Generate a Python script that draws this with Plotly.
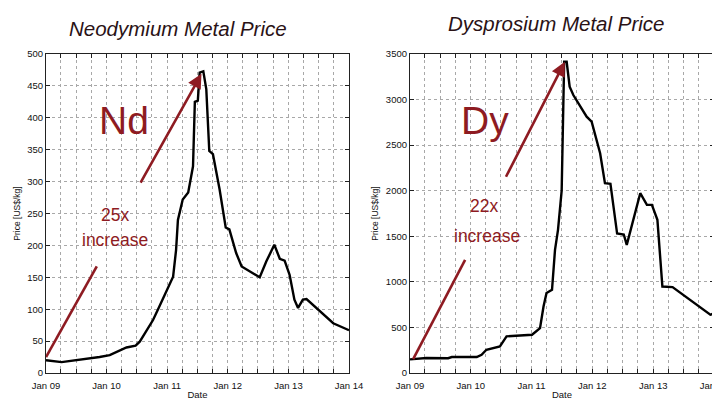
import plotly.graph_objects as go

# ---------------- data ----------------
nd_dates = ["2009-01-01", "2009-04-05", "2009-11-20", "2010-01-20", "2010-05-01", "2010-06-25",
            "2010-07-20", "2010-10-08", "2010-11-06", "2011-01-08", "2011-02-06", "2011-02-24",
            "2011-03-07", "2011-04-05", "2011-05-08", "2011-06-06", "2011-06-17", "2011-07-05",
            "2011-07-16", "2011-08-07", "2011-08-25", "2011-09-12", "2011-10-04", "2011-11-13",
            "2011-12-20", "2012-01-11", "2012-02-02", "2012-02-21", "2012-03-25", "2012-07-12",
            "2012-08-21", "2012-10-08", "2012-11-10", "2012-12-09", "2013-01-08", "2013-02-06",
            "2013-02-28", "2013-03-29", "2013-04-20", "2013-09-28", "2014-01-01"]
nd_price = [20, 17, 25, 28, 40, 43, 49, 83, 99, 133, 151, 193, 240, 272, 283, 324, 425, 427,
            471, 473, 445, 348, 343, 288, 228, 225, 204, 188, 167, 150, 175, 201, 179, 176,
            154, 115, 102, 115, 116, 78, 67]

dy_dates = ["2009-01-01", "2009-04-08", "2009-08-18", "2009-09-09", "2010-02-06", "2010-03-07",
            "2010-04-05", "2010-05-15", "2010-06-25", "2010-08-04", "2010-10-05", "2011-01-04",
            "2011-02-21", "2011-03-14", "2011-04-01", "2011-05-04", "2011-05-22", "2011-06-09",
            "2011-07-01", "2011-07-16", "2011-07-31", "2011-08-18", "2011-09-09", "2011-11-28",
            "2011-12-28", "2012-02-17", "2012-03-17", "2012-04-19", "2012-05-29", "2012-07-08",
            "2012-07-26", "2012-10-15", "2012-11-24", "2012-12-24", "2013-01-26", "2013-02-25",
            "2013-04-27", "2013-12-10", "2014-01-04"]
dy_price = [150, 165, 162, 175, 175, 200, 255, 274, 292, 402, 409, 420, 493, 730, 877, 913,
            1351, 1571, 2000, 3415, 3415, 3141, 3050, 2812, 2758, 2411, 2082, 2075, 1530, 1520,
            1406, 1973, 1845, 1845, 1680, 949, 942, 639, 657]

year_ticks = ["2009-01-01", "2010-01-01", "2011-01-01", "2012-01-01", "2013-01-01", "2014-01-01"]
year_labels = ["Jan 09", "Jan 10", "Jan 11", "Jan 12", "Jan 13", "Jan 14"]

titles = ["Neodymium Metal Price", "Dysprosium Metal Price"]
symbols = ["Nd", "Dy"]
increases = ["25x", "22x"]

# arrow decorations (data coordinates: tail -> head)
nd_arrow_low = [("2009-01-01", 25), ("2009-11-03", 167)]
nd_arrow_up = [("2010-07-20", 296), ("2011-07-27", 469)]
dy_arrow_low = [("2009-01-20", 153), ("2009-11-28", 1242)]
dy_arrow_up = [("2010-07-27", 2137), ("2011-07-20", 3415)]

# ---------------- layout helpers ----------------
# page body has an 8px margin, so the figure is 8px smaller and shifted
OFF = 8
W, H = 720 - OFF, 407 - OFF


def px(x):
    return (x - OFF) / W


def py(y):
    return 1 - (y - OFF) / H


RED = "#8e1b22"
FAM = "Liberation Sans, Arial, sans-serif"
TICKFONT = dict(family=FAM, size=9.5, color="#111")

fig = go.Figure()
fig.add_trace(go.Scatter(x=nd_dates, y=nd_price, mode="lines",
                         line=dict(color="black", width=2.4), xaxis="x", yaxis="y",
                         showlegend=False, hoverinfo="x+y"))
fig.add_trace(go.Scatter(x=dy_dates, y=dy_price, mode="lines",
                         line=dict(color="black", width=2.4), xaxis="x2", yaxis="y2",
                         showlegend=False, hoverinfo="x+y"))

ydom = [py(373), py(54)]


def xaxis_cfg(dom, anchor):
    return dict(domain=dom, anchor=anchor, type="date",
                range=["2009-01-01", "2014-01-01"],
                tickmode="array", tickvals=year_ticks, ticktext=year_labels,
                ticks="inside", ticklen=4, tickcolor="#222",
                showline=True, linecolor="#222", linewidth=1.2, mirror="allticks",
                showgrid=True, gridcolor="#a8a8a8", griddash="dot", gridwidth=1,
                minor=dict(dtick="M3", ticks="inside", ticklen=4, tickcolor="#222",
                           showgrid=True, gridcolor="#a8a8a8", griddash="dot", gridwidth=1),
                tickfont=TICKFONT, zeroline=False, automargin=False,
                ticklabeloverflow="allow", ticklabelstandoff=3,
                title=dict(text="Date", font=dict(family=FAM, size=9.5, color="#111"),
                           standoff=1))


def yaxis_cfg(anchor, rng, dtick):
    return dict(domain=ydom, anchor=anchor, range=rng, dtick=dtick,
                ticks="inside", ticklen=4, tickcolor="#222",
                showline=True, linecolor="#222", linewidth=1.2, mirror="allticks",
                showgrid=True, gridcolor="#a8a8a8", griddash="dot", gridwidth=1,
                tickfont=TICKFONT, zeroline=False, automargin=False,
                title=dict(text="Price [US$/kg]", font=dict(family=FAM, size=8.5, color="#111"),
                           standoff=5))


fig.update_layout(
    width=W, height=H,
    margin=dict(l=0, r=0, t=0, b=0),
    paper_bgcolor="white", plot_bgcolor="white",
    xaxis=xaxis_cfg([px(46), px(349)], "y"),
    yaxis=yaxis_cfg("x", [0, 500], 50),
    xaxis2=xaxis_cfg([px(410), px(714)], "y2"),
    yaxis2=yaxis_cfg("x2", [0, 3500], 500),
)

annotations = []
shapes = []
TITLEFONT = dict(family=FAM, size=20.5, color="#2a1216", style="italic")
annotations.append(dict(text=titles[0], x=px(178), y=py(28), xref="paper", yref="paper",
                        showarrow=False, font=TITLEFONT, xanchor="center", yanchor="middle"))
annotations.append(dict(text=titles[1], x=px(556), y=py(23), xref="paper", yref="paper",
                        showarrow=False, font=TITLEFONT, xanchor="center", yanchor="middle"))

BIGFONT = dict(family=FAM, size=39, color=RED)
MIDFONT = dict(family=FAM, size=17.5, color=RED)

for sym, inc, (xs, ys), (xi, yi), (xr2, yr2) in [
        (symbols[0], increases[0], (124, 120), (115, 215), (115, 240)),
        (symbols[1], increases[1], (485, 121), (484, 206), (487, 236))]:
    annotations.append(dict(text=sym, x=px(xs), y=py(ys), xref="paper", yref="paper",
                            showarrow=False, font=BIGFONT, xanchor="center", yanchor="middle"))
    annotations.append(dict(text=inc, x=px(xi), y=py(yi), xref="paper", yref="paper",
                            showarrow=False, font=MIDFONT, xanchor="center", yanchor="middle"))
    annotations.append(dict(text="increase", x=px(xr2), y=py(yr2), xref="paper", yref="paper",
                            showarrow=False, font=MIDFONT, xanchor="center", yanchor="middle"))

for (low, up, xr, yr) in [(nd_arrow_low, nd_arrow_up, "x", "y"), (dy_arrow_low, dy_arrow_up, "x2", "y2")]:
    shapes.append(dict(type="line", xref=xr, yref=yr, x0=low[0][0], y0=low[0][1],
                       x1=low[1][0], y1=low[1][1], line=dict(color=RED, width=2.6)))
    annotations.append(dict(x=up[1][0], y=up[1][1], ax=up[0][0], ay=up[0][1],
                            xref=xr, yref=yr, axref=xr, ayref=yr, text="",
                            showarrow=True, arrowhead=2, arrowsize=1.1, arrowwidth=2.6,
                            arrowcolor=RED))

fig.update_layout(annotations=annotations, shapes=shapes)
fig.write_html("out.html")
